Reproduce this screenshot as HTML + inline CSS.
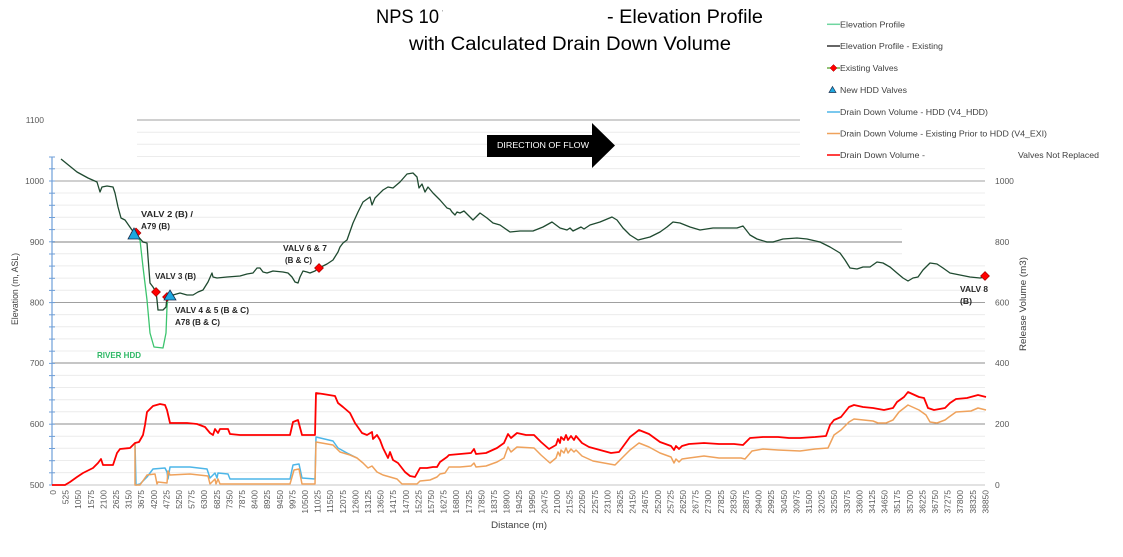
<!DOCTYPE html>
<html>
<head>
<meta charset="utf-8">
<style>
html,body{margin:0;padding:0;background:#fff;}
svg{display:block;font-family:"Liberation Sans",sans-serif;}
</style>
</head>
<body>
<svg width="1123" height="557" viewBox="0 0 1123 557" xmlns="http://www.w3.org/2000/svg">
<rect width="1123" height="557" fill="#fff"/>

<!-- Title -->
<text x="376" y="23" font-size="19" fill="#000" textLength="63" lengthAdjust="spacingAndGlyphs">NPS 10</text>
<text x="442" y="15" font-size="7" fill="#888">'</text>
<text x="607" y="23" font-size="19" fill="#000" textLength="156" lengthAdjust="spacingAndGlyphs">- Elevation Profile</text>
<text x="409" y="50" font-size="19" fill="#000" textLength="322" lengthAdjust="spacingAndGlyphs">with Calculated Drain Down Volume</text>

<!-- Minor gridlines -->
<g stroke="#ececec" stroke-width="1" fill="none">
<line x1="137" y1="132.2" x2="800" y2="132.2"/>
<line x1="137" y1="144.3" x2="800" y2="144.3"/>
<line x1="137" y1="156.5" x2="800" y2="156.5"/>
<line x1="52" y1="168.6" x2="985" y2="168.6"/>
<line x1="52" y1="193.0" x2="985" y2="193.0"/>
<line x1="52" y1="205.1" x2="985" y2="205.1"/>
<line x1="52" y1="217.3" x2="985" y2="217.3"/>
<line x1="52" y1="229.4" x2="902" y2="229.4"/>
<line x1="52" y1="253.8" x2="902" y2="253.8"/>
<line x1="52" y1="265.9" x2="985" y2="265.9"/>
<line x1="52" y1="278.1" x2="985" y2="278.1"/>
<line x1="52" y1="290.2" x2="985" y2="290.2"/>
<line x1="52" y1="314.6" x2="985" y2="314.6"/>
<line x1="52" y1="326.7" x2="985" y2="326.7"/>
<line x1="52" y1="338.9" x2="985" y2="338.9"/>
<line x1="52" y1="351.0" x2="985" y2="351.0"/>
<line x1="52" y1="375.4" x2="985" y2="375.4"/>
<line x1="52" y1="387.5" x2="985" y2="387.5"/>
<line x1="52" y1="399.7" x2="985" y2="399.7"/>
<line x1="52" y1="411.8" x2="985" y2="411.8"/>
<line x1="52" y1="436.2" x2="985" y2="436.2"/>
<line x1="52" y1="448.3" x2="985" y2="448.3"/>
<line x1="52" y1="460.5" x2="985" y2="460.5"/>
<line x1="52" y1="472.6" x2="985" y2="472.6"/>
</g>
<!-- Major gridlines -->
<g fill="none">
<line x1="137" y1="120" x2="800" y2="120" stroke="#a0a0a0" stroke-width="1"/>
<line x1="52" y1="181" x2="985" y2="181" stroke="#a0a0a0" stroke-width="1"/>
<line x1="52" y1="242" x2="902" y2="242" stroke="#c0c0c0" stroke-width="2"/>
<line x1="52" y1="302.5" x2="985" y2="302.5" stroke="#a0a0a0" stroke-width="1"/>
<line x1="52" y1="363" x2="985" y2="363" stroke="#8c8c8c" stroke-width="1"/>
<line x1="52" y1="424" x2="985" y2="424" stroke="#8c8c8c" stroke-width="1"/>
<line x1="52" y1="485" x2="985" y2="485" stroke="#d9d9d9" stroke-width="1.5"/>
</g>

<!-- Left axis line -->
<line x1="52" y1="157" x2="52" y2="485" stroke="#6f9fd8" stroke-width="1.2"/>
<g stroke="#6f9fd8" stroke-width="1">
<line x1="49" y1="485" x2="55" y2="485"/><line x1="49" y1="472.8" x2="55" y2="472.8"/><line x1="49" y1="460.7" x2="55" y2="460.7"/><line x1="49" y1="448.5" x2="55" y2="448.5"/><line x1="49" y1="436.4" x2="55" y2="436.4"/><line x1="49" y1="424.2" x2="55" y2="424.2"/><line x1="49" y1="412" x2="55" y2="412"/><line x1="49" y1="399.9" x2="55" y2="399.9"/><line x1="49" y1="387.7" x2="55" y2="387.7"/><line x1="49" y1="375.6" x2="55" y2="375.6"/><line x1="49" y1="363.4" x2="55" y2="363.4"/><line x1="49" y1="351.2" x2="55" y2="351.2"/><line x1="49" y1="339.1" x2="55" y2="339.1"/><line x1="49" y1="326.9" x2="55" y2="326.9"/><line x1="49" y1="314.8" x2="55" y2="314.8"/><line x1="49" y1="302.6" x2="55" y2="302.6"/><line x1="49" y1="290.4" x2="55" y2="290.4"/><line x1="49" y1="278.3" x2="55" y2="278.3"/><line x1="49" y1="266.1" x2="55" y2="266.1"/><line x1="49" y1="254" x2="55" y2="254"/><line x1="49" y1="241.8" x2="55" y2="241.8"/><line x1="49" y1="229.6" x2="55" y2="229.6"/><line x1="49" y1="217.5" x2="55" y2="217.5"/><line x1="49" y1="205.3" x2="55" y2="205.3"/><line x1="49" y1="193.2" x2="55" y2="193.2"/><line x1="49" y1="181" x2="55" y2="181"/><line x1="49" y1="168.8" x2="55" y2="168.8"/><line x1="49" y1="157" x2="55" y2="157"/>
</g>

<!-- Left axis labels -->
<g font-size="8.5" fill="#595959" text-anchor="end">
<text x="44" y="123">1100</text>
<text x="44" y="184">1000</text>
<text x="44" y="245">900</text>
<text x="44" y="305.5">800</text>
<text x="44" y="366">700</text>
<text x="44" y="427">600</text>
<text x="44" y="488">500</text>
</g>
<text transform="translate(18,289) rotate(-90)" font-size="9" fill="#404040" text-anchor="middle" textLength="72" lengthAdjust="spacingAndGlyphs">Elevation (m, ASL)</text>

<!-- Right axis labels -->
<g font-size="8.5" fill="#595959">
<text x="995" y="184">1000</text>
<text x="995" y="245">800</text>
<text x="995" y="305.5">600</text>
<text x="995" y="366">400</text>
<text x="995" y="427">200</text>
<text x="995" y="488">0</text>
</g>
<text transform="translate(1026,304) rotate(-90)" font-size="9.5" fill="#404040" text-anchor="middle" textLength="94" lengthAdjust="spacingAndGlyphs">Release Volume (m3)</text>

<!-- Direction of flow arrow -->
<path d="M487,135 L592,135 L592,123 L615,145.5 L592,168 L592,157 L487,157 Z" fill="#000"/>
<text x="497" y="148" font-size="8.5" fill="#fff" textLength="92" lengthAdjust="spacingAndGlyphs">DIRECTION OF FLOW</text>

<!-- Drain down: blue -->
<polyline fill="none" stroke="#4db6e8" stroke-width="1.5" stroke-linejoin="round" points="135,443 136,485 140,484 147,477 153,469 165,468 167,472 168,479 170,467 190,467 207,469 210,478 215,473 217,478 218,473 228,474 230,479 290,479 293,465 299,464 302,478 315,479 316,437 333,441 338,448 347,453 357,458"/>
<!-- Drain down: orange -->
<polyline fill="none" stroke="#efa25c" stroke-width="1.5" stroke-linejoin="round" points="135,443 135,485 140,485 147,475 155,474 157,484 158,482 167,483 168,471 170,475 190,474 208,476 210,484 215,479 216,484 218,479 220,484 290,484 294,470 299,469 302,484 315,484 316,442 333,445 340,452 350,455 357,458 363,463 368,468 372,466 377,472 383,475 390,477 397,479 402,484 417,484 420,481 430,480 437,477 440,474 445,473 449,467 460,467 471,466 474,463 476,467 486,466 497,462 504,458 508,447 511,452 517,447 534,448 541,455 550,463 556,458 558,452 560,456 561,450 564,453 566,448 568,453 571,449 574,452 576,450 582,456 593,461 604,463 615,465 630,450 639,443 649,447 660,453 671,457 674,463 676,459 679,462 682,459 689,458 704,456 719,458 741,458 745,459 752,451 763,449 778,450 800,451 815,449 828,448 834,435 841,430 849,422 854,419 873,421 878,423 886,423 893,420 899,412 908,405 919,410 926,415 930,422 937,423 945,420 949,417 956,412 971,411 978,408 986,410"/>
<!-- Drain down: red -->
<polyline fill="none" stroke="#ff0000" stroke-width="1.8" stroke-linejoin="round" points="52,485 65,485 70,482 77,477 83,473 93,468 98,463 101,459 103,465 110,465 113,465 117,453 120,449 130,448 133,445 135,443 139,442 143,435 145,425 147,412 153,406 160,404 165,405 167,410 170,423 180,423 187,423 197,424 205,427 210,433 213,435 215,429 218,433 220,429 228,429 230,434 240,435 290,435 293,422 298,420 302,435 315,435 316,393 323,394 335,396 338,403 343,407 350,413 355,423 362,433 367,435 372,432 373,439 377,435 380,440 383,448 388,458 390,452 393,460 398,463 405,472 410,476 415,477 420,468 427,468 433,467 437,467 440,462 447,457 449,455 460,454 471,453 474,449 476,454 486,453 497,448 504,443 508,434 511,438 517,433 526,435 534,435 541,442 549,449 556,445 558,439 560,443 561,437 564,440 566,435 568,440 571,436 574,440 576,436 582,443 589,447 600,450 611,453 619,452 630,437 639,430 649,434 660,442 671,446 674,450 676,446 679,449 682,446 689,444 704,443 719,444 734,444 743,445 750,438 763,437 778,437 789,438 800,438 815,437 826,436 830,425 834,420 841,417 849,407 854,405 863,407 873,408 884,410 893,408 897,402 904,397 908,392 919,397 924,398 928,408 934,410 945,408 950,403 956,399 967,398 978,395 986,397"/>

<!-- Elevation Profile (HDD) green -->
<polyline fill="none" stroke="#3cc46e" stroke-width="1.3" stroke-linejoin="round" points="134,235 140,240 143,267 147,300 150,333 154,347 163,348 166,333 167,307 168,297 170,295"/>
<!-- Elevation Profile - Existing -->
<polyline fill="none" stroke="#1f4a30" stroke-width="1.3" stroke-linejoin="round" points="61,159 77,172 88,178 97,182 100,192 102,187 107,186 113,187 115,193 118,207 121,218 125,220 132,230 135,233 143,242 147,243 148,257 150,283 153,287 156,292 157,300 158,310 163,310 166,307 167,297 170,295 173,295 180,293 187,295 193,295 198,292 203,290 208,282 212,273 213,277 217,278 227,277 240,276 247,274 253,273 257,268 260,268 263,272 267,273 273,271 283,272 288,273 292,277 295,282 298,283 300,277 303,271 307,272 310,273 315,271 319,268 327,264 333,260 338,252 340,247 343,243 347,240 353,223 358,212 363,202 370,197 372,205 375,198 383,190 388,187 393,188 400,182 407,174 413,173 417,177 419,188 422,184 425,192 428,187 433,193 440,200 447,208 450,209 452,212 455,215 457,212 460,213 464,211 467,214 473,220 480,213 487,218 493,223 500,225 510,232 520,231 533,231 543,227 552,222 560,228 567,230 570,228 573,231 577,229 581,227 584,229 590,225 600,222 612,217 617,220 623,228 630,235 638,240 650,237 660,232 667,227 673,222 680,223 690,227 700,230 713,228 727,228 737,228 743,226 750,235 757,239 767,242 773,242 783,239 797,238 807,239 820,242 830,247 840,253 845,260 850,268 857,269 863,267 870,267 877,262 883,263 890,267 897,273 903,278 908,281 913,278 918,277 923,270 930,263 937,264 943,268 950,273 960,275 970,277 980,278 985,277"/>

<!-- Valve markers -->
<g fill="#ff0000" stroke="#a00000" stroke-width="0.6">
<path d="M136,228 L141,233 L136,238 L131,233 Z"/>
<path d="M156,287.5 L160.5,292 L156,296.5 L151.5,292 Z"/>
<path d="M167,292.5 L171.5,297 L167,301.5 L162.5,297 Z"/>
<path d="M319,263.5 L323.5,268 L319,272.5 L314.5,268 Z"/>
<path d="M985,271.5 L989.5,276 L985,280.5 L980.5,276 Z"/>
</g>
<g fill="#1ea8e0" stroke="#1b2f4f" stroke-width="0.8">
<path d="M134,228 L140,239 L128,239 Z"/>
<path d="M170,290 L176,300 L164,300 Z"/>
</g>

<!-- Valve labels -->
<g font-size="8.5" font-weight="bold" fill="#262626">
<text x="141" y="217" textLength="52" lengthAdjust="spacingAndGlyphs">VALV 2 (B) /</text>
<text x="141" y="229" textLength="29" lengthAdjust="spacingAndGlyphs">A79 (B)</text>
<text x="155" y="279" textLength="41" lengthAdjust="spacingAndGlyphs">VALV 3 (B)</text>
<text x="175" y="313" textLength="74" lengthAdjust="spacingAndGlyphs">VALV 4 &amp; 5 (B &amp; C)</text>
<text x="175" y="325" textLength="45" lengthAdjust="spacingAndGlyphs">A78 (B &amp; C)</text>
<text x="283" y="251" textLength="44" lengthAdjust="spacingAndGlyphs">VALV 6 &amp; 7</text>
<text x="285" y="263" textLength="27" lengthAdjust="spacingAndGlyphs">(B &amp; C)</text>
<text x="960" y="292" textLength="28" lengthAdjust="spacingAndGlyphs">VALV 8</text>
<text x="960" y="304" textLength="12" lengthAdjust="spacingAndGlyphs">(B)</text>
</g>
<text x="97" y="358" font-size="8.5" font-weight="bold" fill="#2fb866" textLength="44" lengthAdjust="spacingAndGlyphs">RIVER HDD</text>

<!-- Legend -->
<rect x="801" y="0" width="322" height="165" fill="#fff"/>
<line x1="827" y1="24.3" x2="840" y2="24.3" stroke="#6fd6a0" stroke-width="1.5"/>
<line x1="827" y1="46" x2="840" y2="46" stroke="#333" stroke-width="1.5"/>
<line x1="827" y1="68" x2="840" y2="68" stroke="#5aa02c" stroke-width="1.3"/>
<path d="M833.5,64.5 L837,68 L833.5,71.5 L830,68 Z" fill="#ff0000" stroke="#a00000" stroke-width="0.5"/>
<path d="M832.5,86.5 L836,92.5 L829,92.5 Z" fill="#1ea8e0" stroke="#1b2f4f" stroke-width="0.7"/>
<line x1="827" y1="112" x2="840" y2="112" stroke="#4db6e8" stroke-width="1.5"/>
<line x1="827" y1="133.5" x2="840" y2="133.5" stroke="#efa25c" stroke-width="1.5"/>
<line x1="827" y1="155" x2="840" y2="155" stroke="#ff0000" stroke-width="1.5"/>
<g font-size="8.5" fill="#404040">
<text x="840" y="27.5" textLength="65" lengthAdjust="spacingAndGlyphs">Elevation Profile</text>
<text x="840" y="49" textLength="103" lengthAdjust="spacingAndGlyphs">Elevation Profile - Existing</text>
<text x="840" y="71" textLength="58" lengthAdjust="spacingAndGlyphs">Existing Valves</text>
<text x="840" y="93" textLength="67" lengthAdjust="spacingAndGlyphs">New HDD Valves</text>
<text x="840" y="115" textLength="148" lengthAdjust="spacingAndGlyphs">Drain Down Volume - HDD (V4_HDD)</text>
<text x="840" y="136.5" textLength="207" lengthAdjust="spacingAndGlyphs">Drain Down Volume - Existing Prior to HDD (V4_EXI)</text>
<text x="840" y="158" textLength="85" lengthAdjust="spacingAndGlyphs">Drain Down Volume -</text>
<text x="1018" y="158" textLength="81" lengthAdjust="spacingAndGlyphs">Valves Not Replaced</text>
</g>

<!-- X axis labels -->
<g font-size="8.5" fill="#595959" text-anchor="end">
<text transform="translate(53,490) rotate(-90)" dy="3">0</text>
<text transform="translate(65.6,490) rotate(-90)" dy="3">525</text>
<text transform="translate(78.2,490) rotate(-90)" dy="3">1050</text>
<text transform="translate(90.8,490) rotate(-90)" dy="3">1575</text>
<text transform="translate(103.4,490) rotate(-90)" dy="3">2100</text>
<text transform="translate(116,490) rotate(-90)" dy="3">2625</text>
<text transform="translate(128.6,490) rotate(-90)" dy="3">3150</text>
<text transform="translate(141.2,490) rotate(-90)" dy="3">3675</text>
<text transform="translate(153.8,490) rotate(-90)" dy="3">4200</text>
<text transform="translate(166.4,490) rotate(-90)" dy="3">4725</text>
<text transform="translate(179,490) rotate(-90)" dy="3">5250</text>
<text transform="translate(191.6,490) rotate(-90)" dy="3">5775</text>
<text transform="translate(204.2,490) rotate(-90)" dy="3">6300</text>
<text transform="translate(216.8,490) rotate(-90)" dy="3">6825</text>
<text transform="translate(229.4,490) rotate(-90)" dy="3">7350</text>
<text transform="translate(242,490) rotate(-90)" dy="3">7875</text>
<text transform="translate(254.6,490) rotate(-90)" dy="3">8400</text>
<text transform="translate(267.2,490) rotate(-90)" dy="3">8925</text>
<text transform="translate(279.8,490) rotate(-90)" dy="3">9450</text>
<text transform="translate(292.4,490) rotate(-90)" dy="3">9975</text>
<text transform="translate(305,490) rotate(-90)" dy="3">10500</text>
<text transform="translate(317.6,490) rotate(-90)" dy="3">11025</text>
<text transform="translate(330.2,490) rotate(-90)" dy="3">11550</text>
<text transform="translate(342.8,490) rotate(-90)" dy="3">12075</text>
<text transform="translate(355.4,490) rotate(-90)" dy="3">12600</text>
<text transform="translate(368,490) rotate(-90)" dy="3">13125</text>
<text transform="translate(380.6,490) rotate(-90)" dy="3">13650</text>
<text transform="translate(393.2,490) rotate(-90)" dy="3">14175</text>
<text transform="translate(405.8,490) rotate(-90)" dy="3">14700</text>
<text transform="translate(418.4,490) rotate(-90)" dy="3">15225</text>
<text transform="translate(431,490) rotate(-90)" dy="3">15750</text>
<text transform="translate(443.6,490) rotate(-90)" dy="3">16275</text>
<text transform="translate(456.2,490) rotate(-90)" dy="3">16800</text>
<text transform="translate(468.8,490) rotate(-90)" dy="3">17325</text>
<text transform="translate(481.4,490) rotate(-90)" dy="3">17850</text>
<text transform="translate(494,490) rotate(-90)" dy="3">18375</text>
<text transform="translate(506.6,490) rotate(-90)" dy="3">18900</text>
<text transform="translate(519.2,490) rotate(-90)" dy="3">19425</text>
<text transform="translate(531.8,490) rotate(-90)" dy="3">19950</text>
<text transform="translate(544.4,490) rotate(-90)" dy="3">20475</text>
<text transform="translate(557,490) rotate(-90)" dy="3">21000</text>
<text transform="translate(569.6,490) rotate(-90)" dy="3">21525</text>
<text transform="translate(582.2,490) rotate(-90)" dy="3">22050</text>
<text transform="translate(594.8,490) rotate(-90)" dy="3">22575</text>
<text transform="translate(607.4,490) rotate(-90)" dy="3">23100</text>
<text transform="translate(620,490) rotate(-90)" dy="3">23625</text>
<text transform="translate(632.6,490) rotate(-90)" dy="3">24150</text>
<text transform="translate(645.2,490) rotate(-90)" dy="3">24675</text>
<text transform="translate(657.8,490) rotate(-90)" dy="3">25200</text>
<text transform="translate(670.4,490) rotate(-90)" dy="3">25725</text>
<text transform="translate(683,490) rotate(-90)" dy="3">26250</text>
<text transform="translate(695.6,490) rotate(-90)" dy="3">26775</text>
<text transform="translate(708.2,490) rotate(-90)" dy="3">27300</text>
<text transform="translate(720.8,490) rotate(-90)" dy="3">27825</text>
<text transform="translate(733.4,490) rotate(-90)" dy="3">28350</text>
<text transform="translate(746,490) rotate(-90)" dy="3">28875</text>
<text transform="translate(758.6,490) rotate(-90)" dy="3">29400</text>
<text transform="translate(771.2,490) rotate(-90)" dy="3">29925</text>
<text transform="translate(783.8,490) rotate(-90)" dy="3">30450</text>
<text transform="translate(796.4,490) rotate(-90)" dy="3">30975</text>
<text transform="translate(809,490) rotate(-90)" dy="3">31500</text>
<text transform="translate(821.6,490) rotate(-90)" dy="3">32025</text>
<text transform="translate(834.2,490) rotate(-90)" dy="3">32550</text>
<text transform="translate(846.8,490) rotate(-90)" dy="3">33075</text>
<text transform="translate(859.4,490) rotate(-90)" dy="3">33600</text>
<text transform="translate(872,490) rotate(-90)" dy="3">34125</text>
<text transform="translate(884.6,490) rotate(-90)" dy="3">34650</text>
<text transform="translate(897.2,490) rotate(-90)" dy="3">35175</text>
<text transform="translate(909.8,490) rotate(-90)" dy="3">35700</text>
<text transform="translate(922.4,490) rotate(-90)" dy="3">36225</text>
<text transform="translate(935,490) rotate(-90)" dy="3">36750</text>
<text transform="translate(947.6,490) rotate(-90)" dy="3">37275</text>
<text transform="translate(960.2,490) rotate(-90)" dy="3">37800</text>
<text transform="translate(972.8,490) rotate(-90)" dy="3">38325</text>
<text transform="translate(985.4,490) rotate(-90)" dy="3">38850</text>
</g>
<text x="519" y="528" font-size="9.5" fill="#404040" text-anchor="middle" textLength="56" lengthAdjust="spacingAndGlyphs">Distance (m)</text>
</svg>
</body>
</html>
